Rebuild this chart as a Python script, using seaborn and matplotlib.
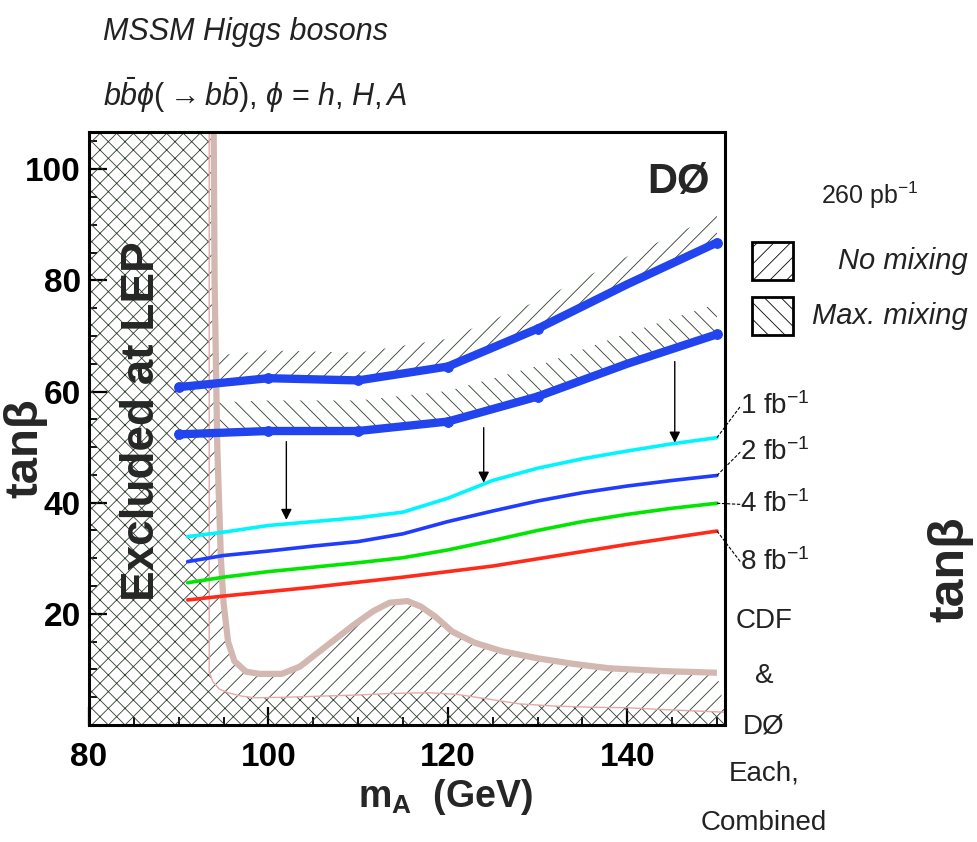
import numpy as np
import pandas as pd
import matplotlib
matplotlib.use("Agg")
import matplotlib.pyplot as plt
import seaborn as sns
from matplotlib.patches import Rectangle
from matplotlib.ticker import MultipleLocator, FixedLocator

# ---------------- data ----------------
mA_limit = [90, 100, 110, 120, 130, 140, 150]
tb_nomix = [60.8, 62.4, 62.0, 64.5, 71.3, 79.3, 86.8]
tb_maxmix = [52.3, 52.9, 52.9, 54.6, 59.1, 65.0, 70.3]

mA_proj = [91, 95, 100, 105, 110, 115, 120, 125, 130, 135, 140, 145, 150]
tb_1fb = [33.9, 34.7, 35.9, 36.6, 37.3, 38.3, 40.8, 44.0, 46.2, 47.9, 49.3, 50.6, 51.7]
tb_2fb = [29.4, 30.5, 31.3, 32.2, 33.0, 34.4, 36.6, 38.5, 40.3, 41.8, 43.0, 44.0, 44.9]
tb_4fb = [25.6, 26.6, 27.6, 28.4, 29.2, 30.1, 31.5, 33.2, 35.0, 36.6, 37.9, 39.0, 39.9]
tb_8fb = [22.5, 23.2, 24.0, 24.8, 25.7, 26.6, 27.6, 28.6, 29.9, 31.2, 32.5, 33.7, 34.9]
proj_names = ["1 fb", "2 fb", "4 fb", "8 fb"]
proj_labels = ["1 fb$^{-1}$", "2 fb$^{-1}$", "4 fb$^{-1}$", "8 fb$^{-1}$"]
proj_label_tb = [57.3, 49.1, 39.7, 29.4]

mA_cdfd0 = [93.9, 94.0, 94.3, 94.7, 95.0, 95.5, 96.2, 97.5, 99, 101.5, 103.5, 105.5, 107.5,
            109.5, 111.7, 113.5, 115.5, 117, 118.6, 120.5, 123, 126, 130, 134, 138, 144, 150]
tb_cdfd0 = [106.7, 80, 50, 30, 22, 15, 11.5, 9.6, 9.2, 9.2, 10.5, 13, 15.5,
            18, 20.5, 22, 22.3, 21.3, 19.5, 16.8, 14.8, 13.3, 12.0, 11.0, 10.2, 9.7, 9.4]

mA_lep = [93.4, 93.4, 93.8, 94.5, 95.5, 97, 98.5, 102, 106, 110, 114, 118, 121, 124,
          128, 132, 136, 140, 145, 150.9]
tb_lep = [106.7, 9.5, 7.8, 6.5, 5.8, 5.2, 4.9, 5.0, 5.2, 5.4, 5.7, 5.8, 5.5, 4.8,
          3.8, 3.4, 3.2, 3.1, 2.7, 2.3]

arrow_mA = [102, 124, 145.3]
arrow_from = [51.0, 53.5, 65.4]
arrow_to = [36.9, 43.6, 50.8]

x_ticks = [80, 100, 120, 140]
y_ticks = [20, 40, 60, 80, 100]

# ---------------- style ----------------
sns.set_theme(style="ticks")
plt.rcParams["font.family"] = ["Liberation Sans", "DejaVu Sans"]
plt.rcParams["mathtext.fontset"] = "custom"
plt.rcParams["mathtext.rm"] = "Liberation Sans"
plt.rcParams["mathtext.it"] = "Liberation Sans:italic"
plt.rcParams["mathtext.bf"] = "Liberation Sans:bold"
plt.rcParams["hatch.linewidth"] = 0.6

HATCH = "#2e3d2e"
TAN = "#d2b8b1"
BLUE = "#2244ee"
W, H = 977, 842


def P(x, y):
    return (x / W, 1 - y / H)


fig = plt.figure(figsize=(9.77, 8.42), dpi=100)
fig.patch.set_facecolor("white")
ax = fig.add_axes([89 / W, 1 - 725 / H, (725 - 89) / W, (725 - 132) / H])
ax.set_facecolor("white")
ax.set_xlim(80, 150.9)
ax.set_ylim(0, 106.7)

# LEP excluded region (cross hatch)
lep_x = np.concatenate([[80, 80], mA_lep, [150.9]])
lep_y = np.concatenate([[0, 106.7], tb_lep, [0]])
ax.fill(lep_x, lep_y, facecolor="none", edgecolor=HATCH, linewidth=0, hatch="xx", zorder=1)

# CDF & D0 region (single hatch) between LEP line and CDF/D0 curve
reg_x = np.concatenate([mA_cdfd0, mA_lep[::-1]])
reg_y = np.concatenate([tb_cdfd0, tb_lep[::-1]])
ax.fill(reg_x, reg_y, facecolor="none", edgecolor=HATCH, linewidth=0, hatch="//", zorder=1)

# hatched bands above 260 pb^-1 limits
clip = Rectangle((94, 0), 60, 120, transform=ax.transData)
b1 = ax.fill_between(mA_limit, tb_nomix, np.array(tb_nomix) + 5.0, facecolor="none",
                     edgecolor=HATCH, linewidth=0, hatch="//", zorder=1)
b1.set_clip_path(clip)
clip2 = Rectangle((94, 0), 60, 120, transform=ax.transData)
b2 = ax.fill_between(mA_limit, tb_maxmix, np.array(tb_maxmix) + 5.5, facecolor="none",
                     edgecolor=HATCH, linewidth=0, hatch="\\\\", zorder=1)
b2.set_clip_path(clip2)

# LEP boundary and CDF/D0 curve
ax.plot(mA_lep, tb_lep, color="#e6a8a8", lw=1.0, zorder=2)
ax.plot(mA_cdfd0, tb_cdfd0, color=TAN, lw=4.5, zorder=3, solid_capstyle="butt")

# projections
df_proj = pd.DataFrame({
    "mA": mA_proj * 4,
    "tb": tb_1fb + tb_2fb + tb_4fb + tb_8fb,
    "lumi": sum([[n] * len(mA_proj) for n in proj_names], []),
})
sns.lineplot(data=df_proj, x="mA", y="tb", hue="lumi",
             palette={"1 fb": "#00f5ff", "2 fb": "#1f3cff", "4 fb": "#00e600", "8 fb": "#ff2a1a"},
             estimator=None, sort=False, legend=False, lw=2.6, ax=ax, zorder=4)

# current limits
df_lim = pd.DataFrame({
    "mA": mA_limit * 2,
    "tb": tb_nomix + tb_maxmix,
    "mix": ["no"] * len(mA_limit) + ["max"] * len(mA_limit),
})
sns.lineplot(data=df_lim, x="mA", y="tb", hue="mix", palette={"no": BLUE, "max": BLUE},
             estimator=None, sort=False, legend=False, lw=6, ax=ax, zorder=5,
             marker="o", markersize=7, markeredgecolor=BLUE, markevery=[0, 1, 2, 3, 4, 6])

# arrows
for xa, y0, y1 in zip(arrow_mA, arrow_from, arrow_to):
    ax.annotate("", xy=(xa, y1), xytext=(xa, y0),
                arrowprops=dict(arrowstyle="-|>", color="black", lw=1.0, mutation_scale=16,
                                shrinkA=0, shrinkB=0), zorder=6)

# leader lines to luminosity labels
proj_end = [tb_1fb[-1], tb_2fb[-1], tb_4fb[-1], tb_8fb[-1]]
for te, tl, lab in zip(proj_end, proj_label_tb, proj_labels):
    ax.plot([150, 152.6], [te, tl], color="black", lw=0.8, ls=(0, (3, 1.5)), clip_on=False, zorder=6)
    ax.text(152.6, tl, lab, fontsize=20, ha="left", va="center", clip_on=False, color="#222222")

# axes styling
for s in ax.spines.values():
    s.set_linewidth(2.2)
    s.set_color("black")
    s.set_zorder(10)
ax.xaxis.set_major_locator(FixedLocator(x_ticks))
ax.xaxis.set_minor_locator(MultipleLocator(5))
ax.yaxis.set_major_locator(FixedLocator(y_ticks))
ax.yaxis.set_minor_locator(MultipleLocator(5))
ax.tick_params(which="both", direction="in", top=False, right=False, colors="black")
ax.tick_params(which="major", length=13, width=1.6)
ax.tick_params(which="minor", length=6, width=1.3)
ax.tick_params(axis="x", which="major", pad=12)
ax.tick_params(axis="y", which="major", pad=6)
for lab in ax.get_xticklabels() + ax.get_yticklabels():
    lab.set_fontsize(24)
    lab.set_fontweight("bold")
ax.set_xlabel("")
ax.set_ylabel("")

# in-plot texts
fig.text(*P(142, 421), "Excluded at LEP", rotation=90, fontsize=33, fontweight="bold",
         ha="center", va="center")
fig.text(*P(678, 182), "DØ", fontsize=30, fontweight="bold", ha="center", va="center")

# titles
fig.text(*P(103, 32), "MSSM Higgs bosons", fontsize=22, style="italic", ha="left", va="center",
         color="#222222")
fig.text(*P(103, 95), r"$b\bar{b}\phi(\rightarrow b\bar{b})$, $\phi$ = $h$, $H, A$", fontsize=22,
         ha="left", va="center", color="#222222")

# axis labels
fig.text(*P(445, 797), r"m$_\mathbf{A}$  (GeV)", fontsize=27, fontweight="bold", ha="center", va="center")
fig.text(*P(25, 448), "tanβ", fontsize=34, fontweight="bold", rotation=90, ha="center", va="center")
fig.text(*P(950, 569), "tanβ", fontsize=36, fontweight="bold", rotation=90, ha="center", va="center")

# legend on the right
fig.text(*P(870, 195), "260 pb$^{-1}$", fontsize=18, ha="center", va="center", color="#222222")
for (y0, y1, hatch, txt) in [(242, 280, "//", "No mixing"), (297, 335, "\\\\", "Max. mixing")]:
    r = Rectangle(P(752, y1), 41 / W, (y1 - y0) / H, transform=fig.transFigure,
                  facecolor="white", edgecolor="black", linewidth=2, hatch=hatch)
    fig.patches.append(r)
    fig.text(*P(968, (y0 + y1) / 2), txt, fontsize=21, style="italic", ha="right", va="center",
             color="#222222")

# CDF & D0 block
for txt, yy in [("CDF", 621), ("&", 676), ("DØ", 727), ("Each,", 774), ("Combined", 823)]:
    fig.text(*P(764, yy), txt, fontsize=20, ha="center", va="center", color="#222222")

fig.savefig("out.png", dpi=100, facecolor="white")
